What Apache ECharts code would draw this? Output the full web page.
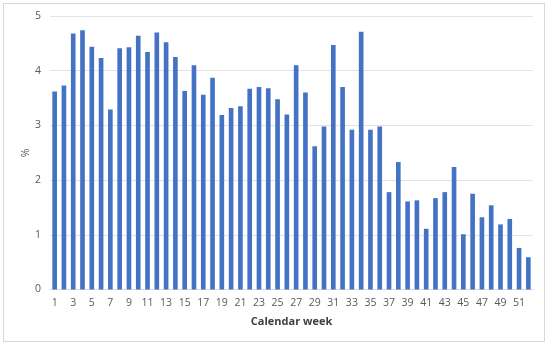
<!DOCTYPE html>
<html>
<head>
<meta charset="utf-8">
<script src="https://cdn.jsdelivr.net/npm/echarts@6/dist/echarts.min.js"></script>
<style>
html,body{margin:0;padding:0;background:#fff;}
#frame{position:absolute;left:3px;top:3px;width:542px;height:339px;border:1px solid #d9d9d9;box-sizing:border-box;}
#chart{position:absolute;left:0;top:0;width:550px;height:346px;}
</style>
</head>
<body>
<div id="frame"></div>
<div id="chart"></div>
<script>
const weeks = ["1","2","3","4","5","6","7","8","9","10","11","12","13","14","15","16","17","18","19","20","21","22","23","24","25","26","27","28","29","30","31","32","33","34","35","36","37","38","39","40","41","42","43","44","45","46","47","48","49","50","51","52"];
const percent = [3.62,3.73,4.68,4.74,4.44,4.23,3.29,4.41,4.43,4.64,4.34,4.70,4.52,4.25,3.63,4.10,3.56,3.87,3.19,3.32,3.35,3.67,3.70,3.68,3.48,3.20,4.10,3.60,2.62,2.98,4.47,3.70,2.92,4.71,2.92,2.98,1.78,2.33,1.61,1.63,1.11,1.67,1.78,2.24,1.01,1.75,1.32,1.54,1.19,1.29,0.76,0.59];
const xTitle = "Calendar week";
const yTitle = "%";

const chart = echarts.init(document.getElementById('chart'), null, {renderer:'canvas'});
chart.setOption({
  animation:false,
  textStyle:{fontFamily:'Open Sans'},
  grid:{left:50,right:17,top:16,bottom:56.5,containLabel:false},
  graphic:[{
    type:'text',
    x:26, y:153,
    rotation:Math.PI/2,
    style:{text:yTitle,fill:'#595959',font:'10.5px "Open Sans"',align:'center',verticalAlign:'middle'}
  }],
  xAxis:{
    type:'category',
    data:weeks,
    name:xTitle,
    nameLocation:'middle',
    nameGap:27,
    nameTextStyle:{color:'#404040',fontSize:11,fontWeight:'bold',fontFamily:'Open Sans'},
    axisLine:{lineStyle:{color:'#d9d9d9'}},
    axisTick:{show:false},
    axisLabel:{interval:1,color:'#595959',fontSize:10.5,margin:8},
  },
  yAxis:{
    type:'value',
    min:0,max:5,interval:1,
    axisLine:{show:false},
    axisTick:{show:false},
    axisLabel:{color:'#595959',fontSize:10.5,margin:9},
    splitLine:{lineStyle:{color:'#e3e3e3'}}
  },
  series:[{
    type:'bar',
    data:percent,
    barCategoryGap:'50%',
    itemStyle:{color:'#4472C4'}
  }]
});
</script>
</body>
</html>
